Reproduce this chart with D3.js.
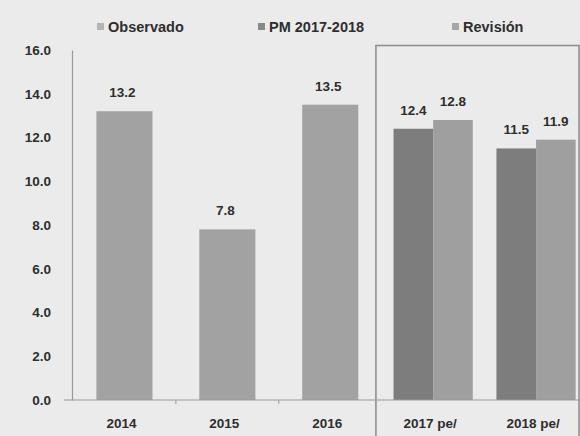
<!DOCTYPE html>
<html>
<head>
<meta charset="utf-8">
<script src="https://cdn.jsdelivr.net/npm/d3@7"></script>
<style>
  body { margin: 0; background: #ebebeb; }
  svg { display: block; }
  text { font-family: "Liberation Sans", Arial, sans-serif; font-weight: bold; fill: #2e2e2e; }
</style>
</head>
<body>
<svg id="chart"></svg>
<script>
var width = 580, height = 436;

// data
var categories = ['2014', '2015', '2016', '2017 pe/', '2018 pe/'];
var observado = [13.2, 7.8, 13.5, null, null];
var pm = [null, null, null, 12.4, 11.5];
var revision = [null, null, null, 12.8, 11.9];
var seriesNames = ['Observado', 'PM 2017-2018', 'Revisión'];
var yTicks = [0, 2, 4, 6, 8, 10, 12, 14, 16];

var colors = { obs: '#a2a2a2', pm: '#7d7d7d', rev: '#9f9f9f' };
var legendColors = ['#b4b4b4', '#8a8a8a', '#a6a6a6'];
var legendX = [97, 258, 452];

var svg = d3.select('#chart')
    .attr('width', width)
    .attr('height', height);

svg.append('rect')
    .attr('width', width).attr('height', height)
    .attr('fill', '#ebebeb');

var y = d3.scaleLinear()
    .domain([0, 16])
    .range([400, 50]);

var x = d3.scaleBand()
    .domain(categories)
    .range([73, 587.5])
    .padding(0);

var barW = x.bandwidth() * 0.545;
var pairW = x.bandwidth() * 0.77;
var sub = d3.scaleBand()
    .domain(['pm', 'rev'])
    .range([0, pairW]);

function center(c) { return x(c) + x.bandwidth() / 2; }

// box around projections
var boxX = ((center('2016') + barW / 2) + (center('2017 pe/') - pairW / 2)) / 2;
svg.append('path')
    .attr('d', 'M' + boxX + ',' + height + 'V45.5H579V' + height)
    .attr('fill', 'none')
    .attr('stroke', '#8c8c8c')
    .attr('stroke-width', 1.5);

// y axis
var yAxis = d3.axisLeft(y)
    .tickValues(yTicks)
    .tickFormat(d3.format('.1f'))
    .tickSize(0)
    .tickPadding(21);

var gy = svg.append('g')
    .attr('transform', 'translate(72,0)')
    .call(yAxis);
gy.select('.domain').attr('stroke', '#9a9a9a').attr('stroke-width', 1.2);
gy.selectAll('text').style('font-size', '13.5px');

// observed bars
var obsData = categories.map(function (c, i) { return { c: c, v: observado[i] }; })
    .filter(function (d) { return d.v != null; });

svg.selectAll('rect.obs')
    .data(obsData)
    .enter()
    .append('rect')
    .attr('class', 'obs')
    .attr('x', function (d) { return center(d.c) - barW / 2; })
    .attr('y', function (d) { return y(d.v); })
    .attr('width', barW)
    .attr('height', function (d) { return y(0) - y(d.v); })
    .attr('fill', colors.obs);

// projection pairs
var pairData = [];
categories.forEach(function (c, i) {
    if (pm[i] != null) pairData.push({ c: c, k: 'pm', v: pm[i] });
    if (revision[i] != null) pairData.push({ c: c, k: 'rev', v: revision[i] });
});

svg.selectAll('rect.pair')
    .data(pairData)
    .enter()
    .append('rect')
    .attr('class', 'pair')
    .attr('x', function (d) { return center(d.c) - pairW / 2 + sub(d.k); })
    .attr('y', function (d) { return y(d.v); })
    .attr('width', sub.bandwidth())
    .attr('height', function (d) { return y(0) - y(d.v); })
    .attr('fill', function (d) { return colors[d.k]; });

// value labels
svg.selectAll('text.val-obs')
    .data(obsData)
    .enter()
    .append('text')
    .attr('class', 'val-obs')
    .attr('x', function (d) { return center(d.c) - 2; })
    .attr('y', function (d) { return y(d.v) - 14; })
    .attr('text-anchor', 'middle')
    .style('font-size', '13.5px')
    .text(function (d) { return d.v.toFixed(1); });

svg.selectAll('text.val-pair')
    .data(pairData)
    .enter()
    .append('text')
    .attr('class', 'val-pair')
    .attr('x', function (d) { return center(d.c) - pairW / 2 + sub(d.k) + sub.bandwidth() / 2; })
    .attr('y', function (d) { return y(d.v) - 14; })
    .attr('text-anchor', 'middle')
    .style('font-size', '13.5px')
    .text(function (d) { return d.v.toFixed(1); });

// baseline and x labels
svg.append('line')
    .attr('x1', 64).attr('x2', 579)
    .attr('y1', y(0)).attr('y2', y(0))
    .attr('stroke', '#9a9a9a')
    .attr('stroke-width', 1.2);

svg.selectAll('line.xtick')
    .data(categories.slice(1, 3))
    .enter()
    .append('line')
    .attr('class', 'xtick')
    .attr('x1', function (c) { return (center(c) + center(categories[categories.indexOf(c) - 1])) / 2; })
    .attr('x2', function (c) { return (center(c) + center(categories[categories.indexOf(c) - 1])) / 2; })
    .attr('y1', y(0)).attr('y2', y(0) + 4)
    .attr('stroke', '#9a9a9a');

svg.selectAll('text.xlab')
    .data(categories)
    .enter()
    .append('text')
    .attr('class', 'xlab')
    .attr('x', function (c) { return center(c) - 3; })
    .attr('y', 428)
    .attr('text-anchor', 'middle')
    .style('font-size', '13.5px')
    .text(function (c) { return c; });

// legend
var leg = svg.selectAll('g.leg')
    .data(seriesNames)
    .enter()
    .append('g')
    .attr('class', 'leg')
    .attr('transform', function (d, i) { return 'translate(' + legendX[i] + ',27)'; });

leg.append('rect')
    .attr('x', 0).attr('y', -4)
    .attr('width', 7).attr('height', 7)
    .attr('fill', function (d, i) { return legendColors[i]; });

leg.append('text')
    .attr('x', 11)
    .attr('y', 5)
    .style('font-size', '14.5px')
    .text(function (d) { return d; });
</script>
</body>
</html>
